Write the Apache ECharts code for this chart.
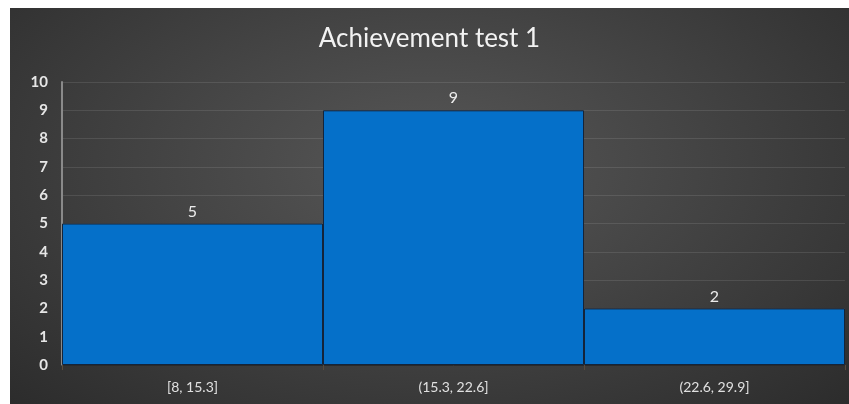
<!DOCTYPE html>
<html lang="en">
	<head>
		<meta charset="UTF-8" />
		<title>Achievement test 1</title>
		<style>
			* {
				box-sizing: border-box;
				margin: 0;
				padding: 0;
			}

			body {
				width: 849px;
				height: 404px;
				background-color: #ffffff;
				position: relative;
				overflow: hidden;
			}

			.container {
				position: absolute;
				left: 10px;
				top: 8px;
				width: 839px;
				height: 396px;
				background: radial-gradient(ellipse at 50% 40%, #575757 0%, #444444 45%, #2c2c2c 100%);
			}
		</style>
	</head>
	<body>
		<div class="container" id="chart"></div>
		<script src="https://cdn.jsdelivr.net/npm/echarts@6/dist/echarts.min.js"></script>
		<script>
			// 数据
			var categories = ['[8, 15.3]', '(15.3, 22.6]', '(22.6, 29.9]']
			var counts = [5, 9, 2]
			var yMin = 0
			var yMax = 10
			var yStep = 1

			var chart = echarts.init(document.getElementById('chart'))
			chart.setOption({
				animation: false,
				title: {
					text: 'Achievement test 1',
					left: 'center',
					top: 13,
					textStyle: {
						color: '#f2f2f2',
						fontFamily: 'Lato',
						fontWeight: 'normal',
						fontSize: 26
					}
				},
				grid: {
					left: 52,
					right: 4,
					top: 74,
					bottom: 39
				},
				xAxis: {
					type: 'category',
					data: categories,
					axisLine: {
						show: true,
						lineStyle: { color: '#2a2a2a', width: 1 }
					},
					axisTick: {
						show: true,
						length: 5,
						lineStyle: { color: '#5a4a3a' }
					},
					axisLabel: {
						color: '#e0e0e0',
						fontFamily: 'Lato',
						fontSize: 14,
						margin: 15
					}
				},
				yAxis: {
					type: 'value',
					min: yMin,
					max: yMax,
					interval: yStep,
					axisLine: {
						show: true,
						lineStyle: { color: '#8a8a8a', width: 2 }
					},
					axisTick: { show: false },
					splitLine: {
						show: true,
						lineStyle: { color: 'rgba(255,255,255,0.1)' }
					},
					axisLabel: {
						color: '#e6e6e6',
						fontFamily: 'Lato',
						fontWeight: 'bold',
						fontSize: 15,
						margin: 14
					}
				},
				series: [{
					type: 'bar',
					data: counts,
					barCategoryGap: '0%',
					itemStyle: {
						color: '#0570c9',
						borderColor: '#14243a',
						borderWidth: 1
					},
					label: {
						show: true,
						position: 'top',
						distance: 4,
						color: '#ececec',
						fontFamily: 'Lato',
						fontSize: 16
					}
				}]
			})
		</script>
	</body>
</html>
